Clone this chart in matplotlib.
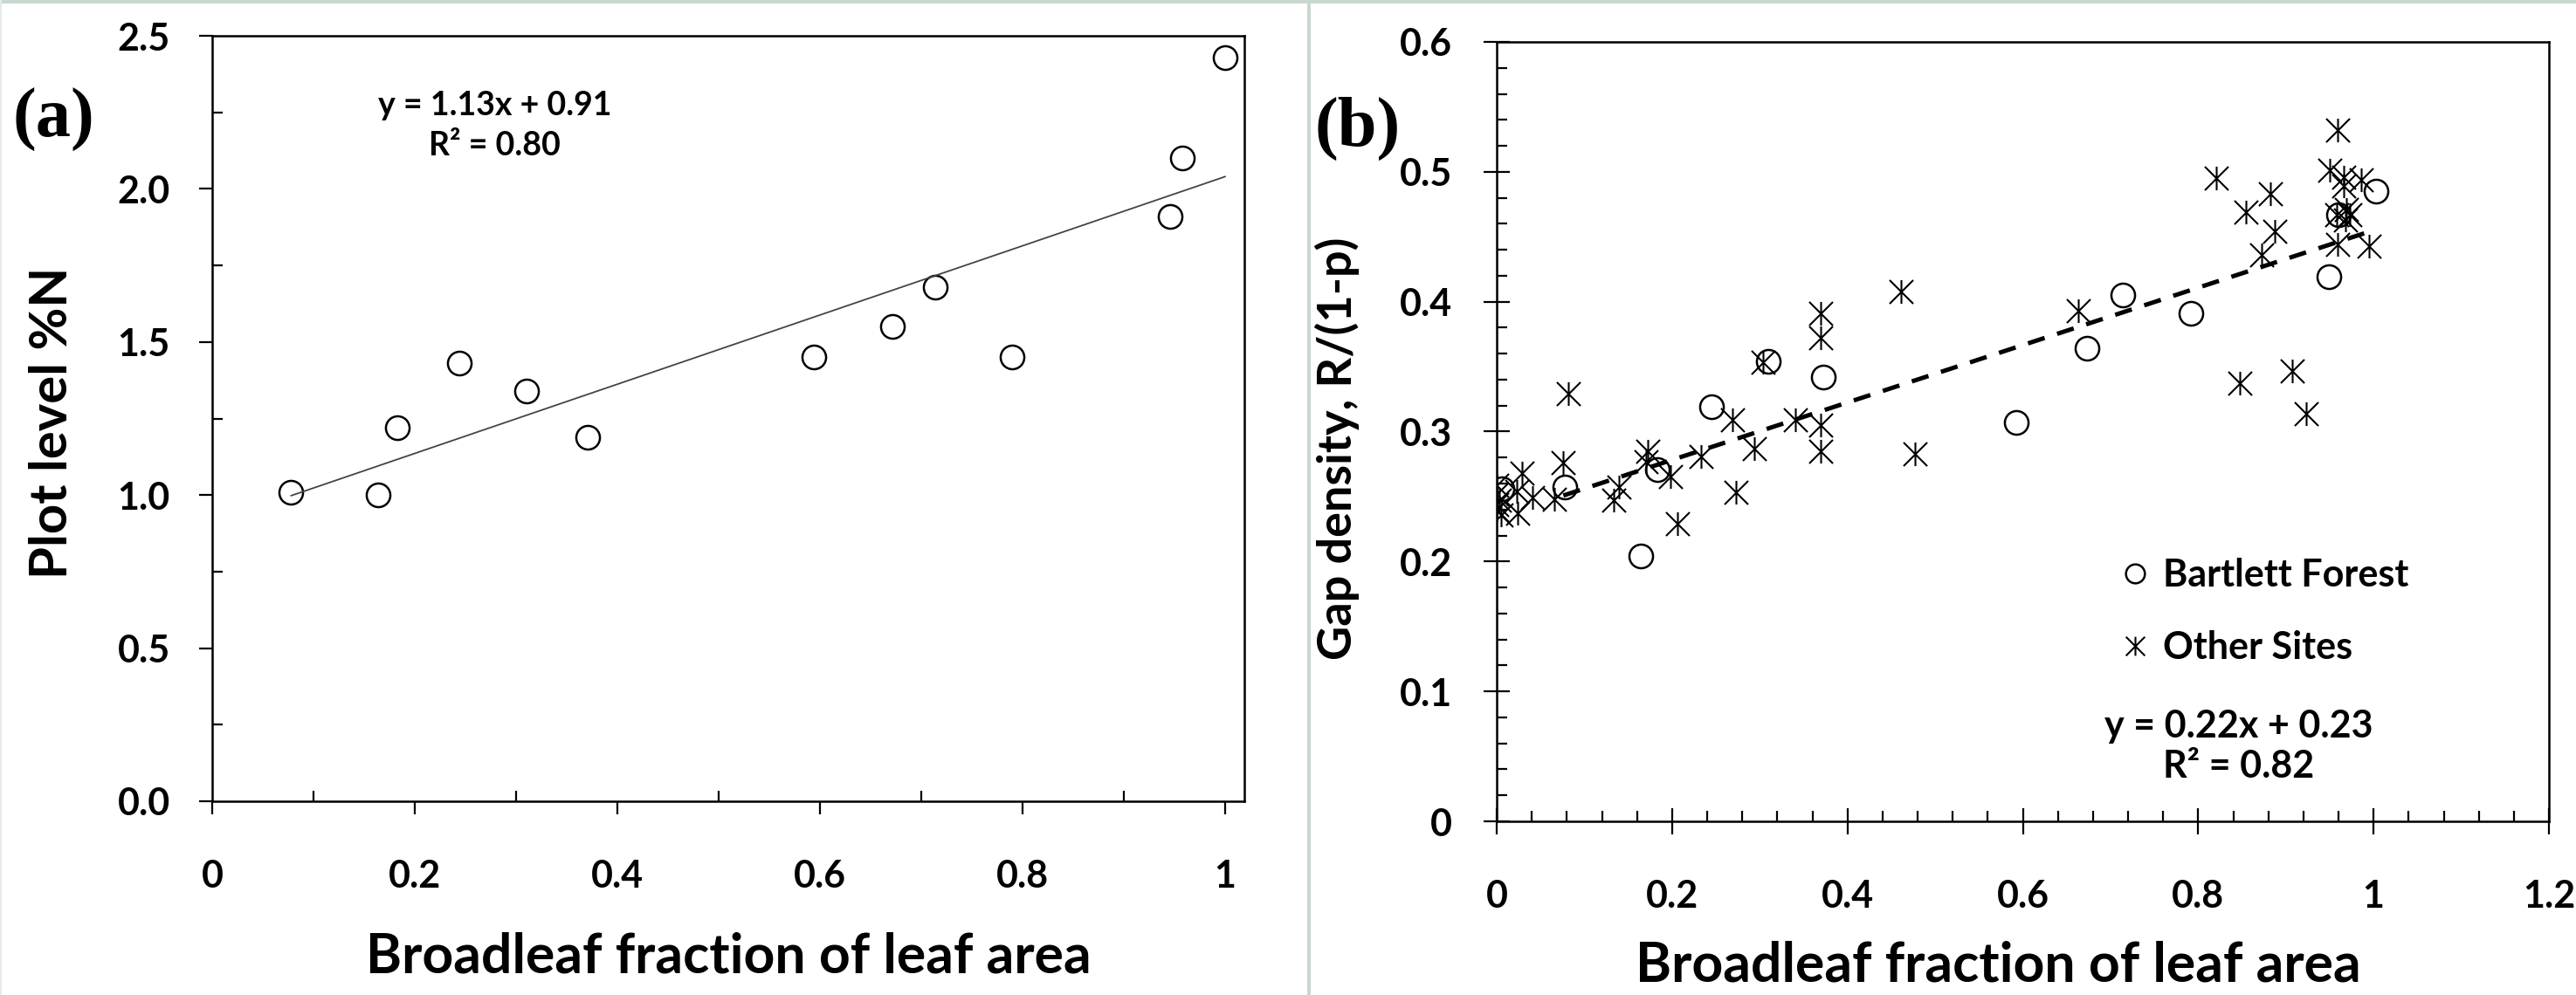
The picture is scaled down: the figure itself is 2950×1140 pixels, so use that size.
import numpy as np
import matplotlib
matplotlib.use('Agg')
import matplotlib.pyplot as plt
from matplotlib.path import Path
from matplotlib.patches import Rectangle
from matplotlib.ticker import MultipleLocator, FixedLocator, FixedFormatter

plt.rcParams['font.family'] = ['Lato', 'DejaVu Sans']
plt.rcParams['font.weight'] = 'bold'
plt.rcParams['axes.labelweight'] = 'bold'

# panel (a): plot level %N vs broadleaf fraction
a_x = [0.078, 0.164, 0.183, 0.244, 0.310, 0.371, 0.594, 0.672, 0.714, 0.790, 0.946, 0.958, 1.000]
a_y = [1.01, 1.00, 1.22, 1.43, 1.34, 1.19, 1.45, 1.55, 1.68, 1.45, 1.91, 2.10, 2.43]
fit_a = (1.13, 0.91)
fit_a_range = [0.078, 1.0]

# panel (b): gap density
bart_x = [0.006, 0.078, 0.164, 0.183, 0.245, 0.310, 0.372, 0.593, 0.673, 0.714, 0.792, 0.949, 0.960, 1.003]
bart_y = [0.256, 0.257, 0.204, 0.271, 0.319, 0.354, 0.342, 0.307, 0.364, 0.405, 0.391, 0.419, 0.467, 0.485]

other_x = [0.0, 0.0, 0.0, 0.0, 0.003, 0.005, 0.023, 0.024, 0.029, 0.041, 0.066, 0.076, 0.082,
           0.133, 0.139, 0.172, 0.170, 0.198, 0.206, 0.233, 0.269, 0.273, 0.294, 0.304, 0.341,
           0.369, 0.369, 0.369, 0.369, 0.461, 0.477, 0.663, 0.821, 0.847, 0.854, 0.872, 0.882,
           0.887, 0.907, 0.923, 0.950, 0.959, 0.959, 0.958, 0.966, 0.966, 0.969, 0.973, 0.968,
           0.986, 0.995]
other_y = [0.259, 0.252, 0.244, 0.240, 0.247, 0.236, 0.254, 0.237, 0.268, 0.249, 0.248, 0.276, 0.329,
           0.247, 0.257, 0.285, 0.277, 0.2655, 0.229, 0.281, 0.309, 0.253, 0.287, 0.3535, 0.309,
           0.391, 0.372, 0.305, 0.285, 0.408, 0.283, 0.393, 0.495, 0.337, 0.469, 0.436, 0.483,
           0.454, 0.347, 0.314, 0.501, 0.532, 0.444, 0.467, 0.496, 0.489, 0.471, 0.467, 0.463,
           0.494, 0.443]
fit_b = (0.221, 0.234)
fit_b_range = [0.076, 1.0]

a_xticks = [0, 0.2, 0.4, 0.6, 0.8, 1.0]
a_xlabels = ['0', '0.2', '0.4', '0.6', '0.8', '1']
b_xticks = [0, 0.2, 0.4, 0.6, 0.8, 1.0, 1.2]
b_xlabels = ['0', '0.2', '0.4', '0.6', '0.8', '1', '1.2']
b_yticks = [0, 0.1, 0.2, 0.3, 0.4, 0.5, 0.6]
b_ylabels = ['0', '0.1', '0.2', '0.3', '0.4', '0.5', '0.6']

# asterisk marker: vertical bar plus an x
star = Path([(0, -1), (0, 1), (-1, -1), (1, 1), (-1, 1), (1, -1)],
            [Path.MOVETO, Path.LINETO, Path.MOVETO, Path.LINETO, Path.MOVETO, Path.LINETO])

fig = plt.figure(figsize=(29.5, 11.4), dpi=100)
frame_col = '#c8d8ce'
fig.add_artist(Rectangle((0, 1 - 4 / 1140), 1, 4 / 1140, transform=fig.transFigure, color=frame_col, lw=0))
fig.add_artist(Rectangle((1497 / 2950, 0), 4 / 2950, 1, transform=fig.transFigure, color=frame_col, lw=0))
fig.add_artist(Rectangle((0, 0), 2 / 2950, 1, transform=fig.transFigure, color='#e4ece7', lw=0))

tick_fs = 31

# ---- panel (a)
ax1 = fig.add_axes([243 / 2950, 222 / 1140, 1182 / 2950, 877 / 1140])
ax1.plot(a_x, a_y, 'o', ms=19.5, mfc='none', mec='black', mew=1.8)
xs = np.array(fit_a_range)
ax1.plot(xs, fit_a[0] * xs + fit_a[1], color='#444444', lw=1.3)
ax1.set_xlim(0, 1.019)
ax1.set_ylim(0, 2.5)
ax1.xaxis.set_major_locator(FixedLocator(a_xticks))
ax1.xaxis.set_major_formatter(FixedFormatter(a_xlabels))
ax1.xaxis.set_minor_locator(MultipleLocator(0.1))
ax1.yaxis.set_major_locator(MultipleLocator(0.5))
ax1.yaxis.set_major_formatter(plt.FormatStrFormatter('%.1f'))
ax1.yaxis.set_minor_locator(MultipleLocator(0.25))
ax1.tick_params(which='major', direction='out', length=10.8, width=1.6, labelsize=tick_fs)
ax1.tick_params(axis='x', which='major', pad=37)
ax1.tick_params(axis='y', which='major', pad=24)
ax1.tick_params(which='minor', direction='in', length=8.6, width=1.6)
for s in ax1.spines.values():
    s.set_linewidth(1.8)
ax1.set_xlabel('Broadleaf fraction of leaf area', fontsize=45)
ax1.xaxis.set_label_coords(0.5, -0.17)
ax1.set_ylabel('Plot level %N', fontsize=43)
ax1.yaxis.set_label_coords(-0.132, 0.495)
ax1.text(0.274, 0.8826, 'y = 1.13x + 0.91\nR\u00b2 = 0.80', transform=ax1.transAxes,
         ha='center', va='center', multialignment='center', fontsize=27, linespacing=1.45)

# ---- panel (b)
ax2 = fig.add_axes([1714 / 2950, 199 / 1140, 1205 / 2950, 893 / 1140])
ax2.plot(bart_x, bart_y, 'o', ms=19.5, mfc='none', mec='black', mew=1.8, label='Bartlett Forest')
ax2.plot(other_x, other_y, marker=star, ls='none', ms=19.5, mec='black', mew=1.5, label='Other Sites')
xs = np.array(fit_b_range)
ax2.plot(xs, fit_b[0] * xs + fit_b[1], color='black', lw=3.6, dashes=(4, 3))
ax2.set_xlim(0, 1.2)
ax2.set_ylim(0, 0.6)
ax2.xaxis.set_major_locator(FixedLocator(b_xticks))
ax2.xaxis.set_major_formatter(FixedFormatter(b_xlabels))
ax2.xaxis.set_minor_locator(MultipleLocator(0.04))
ax2.yaxis.set_major_locator(FixedLocator(b_yticks))
ax2.yaxis.set_major_formatter(FixedFormatter(b_ylabels))
ax2.yaxis.set_minor_locator(MultipleLocator(0.02))
ax2.tick_params(which='major', direction='inout', length=21.6, width=1.6, labelsize=tick_fs)
ax2.tick_params(axis='x', which='major', pad=37)
ax2.tick_params(axis='y', which='major', pad=26)
ax2.tick_params(which='minor', direction='in', length=8.6, width=1.6)
for s in ax2.spines.values():
    s.set_linewidth(1.8)
ax2.set_xlabel('Broadleaf fraction of leaf area', fontsize=45)
ax2.xaxis.set_label_coords(0.477, -0.153)
ax2.set_ylabel('Gap density, R/(1-p)', fontsize=39)
ax2.yaxis.set_label_coords(-0.130, 0.478)
ax2.legend(loc='upper left', bbox_to_anchor=(0.5925, 0.338), frameon=False, fontsize=31,
           handlelength=0.8, handletextpad=0.35, labelspacing=1.0, borderpad=0, borderaxespad=0,
           markerscale=0.8)
ax2.text(0.705, 0.0963, 'y = 0.22x + 0.23\nR\u00b2 = 0.82', transform=ax2.transAxes,
         ha='center', va='center', multialignment='center', fontsize=31, linespacing=1.2)

fig.text(14 / 2950, 1 - 137 / 1140, '(a)', family=['Liberation Serif', 'DejaVu Serif'],
         fontsize=58, fontweight='bold', ha='left', va='center')
fig.text(1506 / 2950, 1 - 147 / 1140, '(b)', family=['Liberation Serif', 'DejaVu Serif'],
         fontsize=58, fontweight='bold', ha='left', va='center')

fig.savefig('out.png', dpi=100)
